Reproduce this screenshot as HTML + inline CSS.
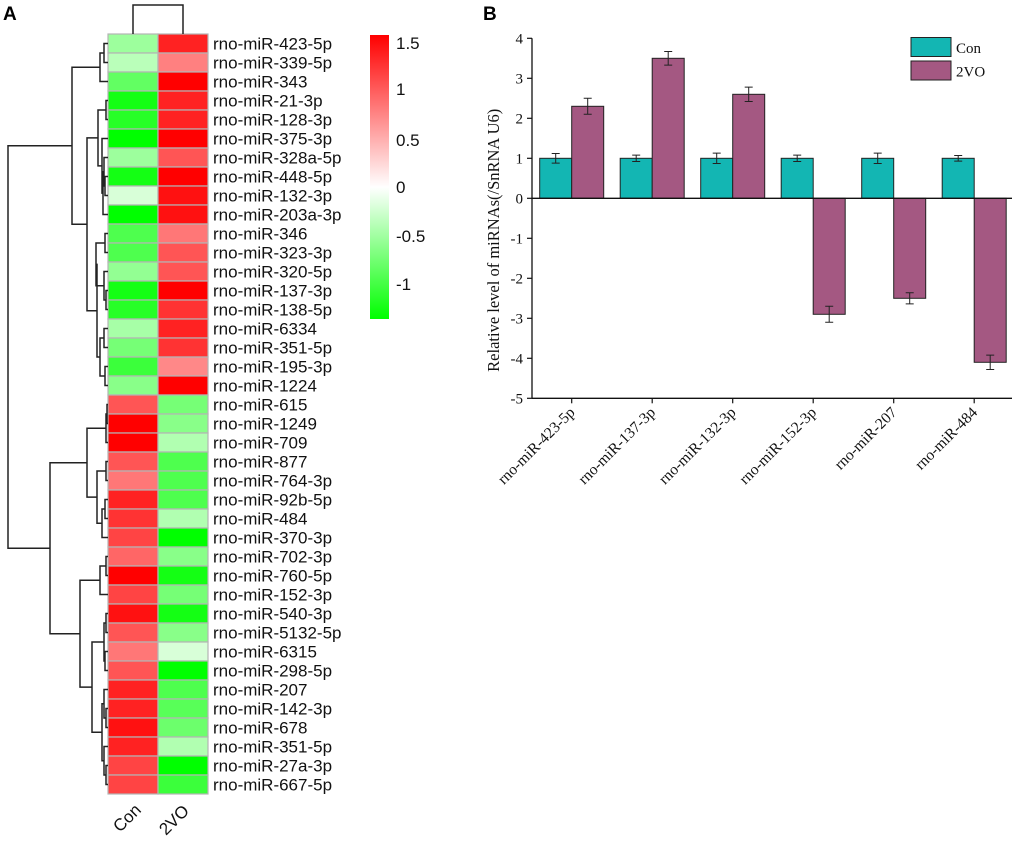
<!DOCTYPE html>
<html><head><meta charset="utf-8"><style>
html,body{margin:0;padding:0;background:#fff;width:1020px;height:841px;overflow:hidden}
svg{display:block}
.hl{font-family:"Liberation Sans",Arial,sans-serif;font-size:17px;fill:#111}
.bl{font-family:"Liberation Serif","Times New Roman",serif;font-size:15px;fill:#111}
.yt{font-family:"Liberation Serif","Times New Roman",serif;font-size:16.5px;fill:#111}
.xl{font-family:"Liberation Serif","Times New Roman",serif;font-size:15.5px;fill:#111}
</style></head><body>
<svg id="fig" width="1020" height="841" xmlns="http://www.w3.org/2000/svg">
<defs><linearGradient id="cb" x1="0" y1="1" x2="0" y2="0">
<stop offset="0" stop-color="#00ff00"/><stop offset="0.464" stop-color="#ffffff"/><stop offset="1" stop-color="#ff0000"/></linearGradient></defs>
<text x="3" y="20" font-family="Liberation Sans,Arial,sans-serif" font-weight="bold" font-size="19">A</text>
<text x="483" y="20" font-family="Liberation Sans,Arial,sans-serif" font-weight="bold" font-size="19">B</text>
<g id="heat"></g>
<g id="dend"></g>
<path d="M133,34V5H183V34" fill="none" stroke="#222" stroke-width="1.5"/>
<g>
<rect x="370" y="35" width="19" height="284" fill="url(#cb)"/>
<text class="hl" x="396" y="49">1.5</text><text class="hl" x="396" y="95">1</text>
<text class="hl" x="396" y="146">0.5</text><text class="hl" x="396" y="193">0</text>
<text class="hl" x="396" y="242">-0.5</text><text class="hl" x="396" y="290">-1</text>
</g>
<text class="hl" transform="translate(120,833) rotate(-45)">Con</text>
<text class="hl" transform="translate(166,836) rotate(-45)">2VO</text>
<g id="bars"></g>
</svg>
<script>
const rowLabels=["rno-miR-423-5p","rno-miR-339-5p","rno-miR-343","rno-miR-21-3p","rno-miR-128-3p","rno-miR-375-3p","rno-miR-328a-5p","rno-miR-448-5p","rno-miR-132-3p","rno-miR-203a-3p","rno-miR-346","rno-miR-323-3p","rno-miR-320-5p","rno-miR-137-3p","rno-miR-138-5p","rno-miR-6334","rno-miR-351-5p","rno-miR-195-3p","rno-miR-1224","rno-miR-615","rno-miR-1249","rno-miR-709","rno-miR-877","rno-miR-764-3p","rno-miR-92b-5p","rno-miR-484","rno-miR-370-3p","rno-miR-702-3p","rno-miR-760-5p","rno-miR-152-3p","rno-miR-540-3p","rno-miR-5132-5p","rno-miR-6315","rno-miR-298-5p","rno-miR-207","rno-miR-142-3p","rno-miR-678","rno-miR-351-5p","rno-miR-27a-3p","rno-miR-667-5p"];
const conValues=[-0.5,-0.35,-0.8,-1.2,-1.1,-1.3,-0.5,-1.2,-0.2,-1.3,-0.9,-0.9,-0.55,-1.2,-1.1,-0.45,-0.7,-1.0,-0.6,1.0,1.5,1.5,1.0,0.8,1.3,1.2,1.1,0.9,1.5,1.1,1.4,1.0,0.8,1.0,1.3,1.3,1.4,1.3,1.1,1.1];
const voValues=[1.3,0.75,1.5,1.3,1.3,1.5,1.0,1.5,1.4,1.4,0.8,1.0,1.0,1.5,1.2,1.3,1.2,0.7,1.5,-0.7,-0.6,-0.4,-0.9,-0.9,-0.9,-0.4,-1.3,-0.6,-1.2,-0.7,-1.2,-0.6,-0.2,-1.3,-0.9,-0.85,-0.75,-0.4,-1.3,-1.0];
const categories=["rno-miR-423-5p","rno-miR-137-3p","rno-miR-132-3p","rno-miR-152-3p","rno-miR-207","rno-miR-484"];
const conLevels=[1,1,1,1,1,1];
const voLevels=[2.3,3.5,2.6,-2.9,-2.5,-4.1];
const conErr=[0.12,0.08,0.13,0.08,0.13,0.07];
const voErr=[0.2,0.17,0.18,0.2,0.14,0.18];
const yTicks=[4,3,2,1,0,-1,-2,-3,-4,-5];

const NS="http://www.w3.org/2000/svg";
function mk(t,a,p){const e=document.createElementNS(NS,t);for(const k in a)e.setAttribute(k,a[k]);p.appendChild(e);return e;}
function col(v){if(v>=0){const t=Math.min(v/1.5,1),g=Math.round(255*(1-t));return `rgb(255,${g},${g})`;}const t=Math.min(-v/1.3,1),g=Math.round(255*(1-t));return `rgb(${g},255,${g})`;}
const heat=document.getElementById('heat');
const top0=34,rh=19;
rowLabels.forEach((l,i)=>{
 const y=top0+i*rh;
 let c=mk('rect',{x:108,y:y,width:50,height:rh,fill:col(conValues[i]),stroke:'#b4b4b4','stroke-width':1.2},heat);
 
 
 let d=mk('rect',{x:158,y:y,width:50,height:rh,fill:col(voValues[i]),stroke:'#b4b4b4','stroke-width':1.2},heat);
 
 
 let t=mk('text',{x:213,y:y+15.5,class:'hl'},heat);t.textContent=l;
 
 
});
const tree=[8,[72,[100,[104,0,1],2],[87,[98,[106,3,4],[102,5,[103,[104,6,[105,7,8]],9]]],[97,[96,[105,10,11],[104,12,[106,13,14]]],[100,[104,15,16],[105,17,18]]]]],
 [50,[87,[106,[107,19,20],21],[97,[106,22,23],[102,[105,24,25],26]]],
 [80,[100,[106,27,28],29],[92,[104,[106,30,31],[105,32,33]],[102,[104,34,[106,35,36]],[104,37,[106,38,39]]]]]]];
const dend=document.getElementById('dend');
let dp='';
function walk(n){if(typeof n==='number')return{x:108,y:top0+n*rh+rh/2};
 const a=walk(n[1]),b=walk(n[2]),x=n[0];
 dp+=`M${a.x},${a.y}H${x}V${b.y}H${b.x}`;return{x:x,y:(a.y+b.y)/2};}
walk(tree);
mk('path',{d:dp,fill:'none',stroke:'#222','stroke-width':1.5},dend);

const bars=document.getElementById('bars');
const X0=532,Y0=198.3,U=40,step=80.5,first=571.7,bw=32;
const yS=v=>Y0-v*U, xS=i=>first+i*step;
mk('line',{x1:X0,y1:yS(4),x2:X0,y2:yS(-5),stroke:'#111','stroke-width':1.3},bars);
mk('line',{x1:X0,y1:yS(-5),x2:1012,y2:yS(-5),stroke:'#111','stroke-width':1.3},bars);
yTicks.forEach(v=>{mk('line',{x1:X0-5,y1:yS(v),x2:X0,y2:yS(v),stroke:'#111','stroke-width':1.2},bars);
 const t=mk('text',{x:X0-9,y:yS(v)+5,class:'bl','text-anchor':'end'},bars);t.textContent=v;
 
 });
function bar(x,v,fill,name){const r=mk('rect',{x:x,y:Math.min(yS(v),Y0),width:bw,height:Math.abs(yS(v)-Y0),fill:fill,stroke:'#222','stroke-width':1},bars);
 
 }
function eb(cx,v,e){const p=`M${cx},${yS(v+e)}V${yS(v-e)}M${cx-4},${yS(v+e)}H${cx+4}M${cx-4},${yS(v-e)}H${cx+4}`;mk('path',{d:p,stroke:'#222','stroke-width':1,fill:'none'},bars);}
categories.forEach((c,i)=>{const cx=xS(i);
 bar(cx-bw,conLevels[i],'#13b6b3','bar-con-'+i);
 bar(cx,voLevels[i],'#a45882','bar-2vo-'+i);
 eb(cx-bw/2,conLevels[i],conErr[i]);eb(cx+bw/2,voLevels[i],voErr[i]);
 mk('line',{x1:cx,y1:yS(-5),x2:cx,y2:yS(-5)+5,stroke:'#111','stroke-width':1.2},bars);
 const t=mk('text',{class:'xl','text-anchor':'end',transform:`translate(${cx+4},${yS(-5)+15}) rotate(-45)`},bars);t.textContent=c;
 
 });
mk('line',{x1:X0,y1:Y0,x2:1012,y2:Y0,stroke:'#111','stroke-width':1.3},bars);
const yt=mk('text',{class:'yt','text-anchor':'middle',transform:`translate(499,${yS(-1.05)}) rotate(-90)`},bars);yt.textContent='Relative level of miRNAs(/SnRNA U6)';


const lg=mk('g',{},bars);


mk('rect',{x:911,y:37.5,width:40,height:19,fill:'#13b6b3',stroke:'#222','stroke-width':1},lg);
mk('rect',{x:911,y:61,width:40,height:19,fill:'#a45882',stroke:'#222','stroke-width':1},lg);
let l1=mk('text',{x:956,y:53,class:'bl'},lg);l1.textContent='Con';
let l2=mk('text',{x:956,y:76.5,class:'bl'},lg);l2.textContent='2VO';
</script>
</body></html>
